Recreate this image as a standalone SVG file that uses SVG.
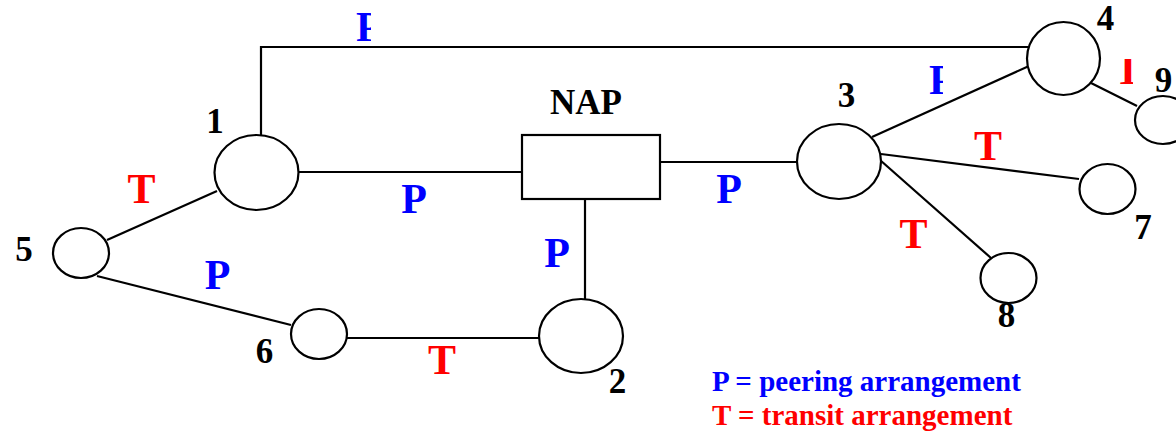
<svg xmlns="http://www.w3.org/2000/svg" width="1176" height="432" viewBox="0 0 1176 432">
  <style>
    .node { fill: #ffffff; stroke: #000000; stroke-width: 2.2; }
    .link { fill: none; stroke: #000000; stroke-width: 2.2; }
    .num { font-family: "Liberation Serif", "Times New Roman", serif; font-weight: bold; font-size: 35px; fill: #000000; text-anchor: middle; }
    .lab { font-family: "Liberation Serif", "Times New Roman", serif; font-weight: bold; font-size: 42px; text-anchor: middle; }
    .peer { fill: #0000ff; }
    .tran { fill: #ff0000; }
    .key { font-family: "Liberation Serif", "Times New Roman", serif; font-weight: bold; font-size: 29px; }
  </style>
  <defs>
    <clipPath id="cut-p-top"><rect x="340" y="0" width="31" height="60"/></clipPath>
    <clipPath id="cut-p-34"><rect x="915" y="55" width="28" height="50"/></clipPath>
    <clipPath id="cut-t-49"><rect x="1118" y="59" width="15" height="35"/></clipPath>
  </defs>
  <rect width="1176" height="432" fill="#ffffff"/>

  <!-- connectors -->
  <g id="connectors">
    <polyline class="link" points="261,136 261,47 1028,47"/>
    <line class="link" x1="107" y1="240" x2="217" y2="191"/>
    <line class="link" x1="97" y1="276" x2="291" y2="325"/>
    <line class="link" x1="347" y1="338" x2="539" y2="338"/>
    <line class="link" x1="299" y1="172" x2="522" y2="172"/>
    <line class="link" x1="585" y1="199" x2="585" y2="299"/>
    <line class="link" x1="660" y1="162" x2="797" y2="162"/>
    <line class="link" x1="872" y1="137" x2="1029" y2="66"/>
    <line class="link" x1="881" y1="154" x2="1079" y2="179"/>
    <line class="link" x1="880" y1="160" x2="991" y2="258"/>
    <line class="link" x1="1091" y1="83" x2="1137" y2="106"/>
  </g>

  <!-- link labels: P = peering, T = transit -->
  <g id="link-labels">
    <text class="lab tran" x="141.5" y="203">T</text>
    <text class="lab peer" x="217.5" y="289">P</text>
    <text class="lab peer" x="414" y="213">P</text>
    <text class="lab peer" x="557" y="267">P</text>
    <text class="lab peer" x="729" y="203">P</text>
    <text class="lab tran" x="442" y="374">T</text>
    <text class="lab tran" x="988" y="160">T</text>
    <text class="lab tran" x="913.5" y="248">T</text>
    <text class="lab peer" x="356" y="41" style="text-anchor:start" clip-path="url(#cut-p-top)">P</text>
    <text class="lab peer" x="929" y="94" style="text-anchor:start" clip-path="url(#cut-p-34)">P</text>
    <text class="lab tran" x="1114" y="84" style="text-anchor:start" clip-path="url(#cut-t-49)">T</text>
  </g>

  <!-- nodes -->
  <g id="node-1">
    <ellipse class="node" cx="256.5" cy="172.5" rx="42" ry="37.5"/>
    <text class="num" x="215" y="133">1</text>
  </g>
  <g id="node-2">
    <ellipse class="node" cx="581" cy="336" rx="42" ry="37"/>
    <text class="num" x="617.5" y="393">2</text>
  </g>
  <g id="node-3">
    <ellipse class="node" cx="839" cy="161.5" rx="42" ry="37.5"/>
    <text class="num" x="846.5" y="107">3</text>
  </g>
  <g id="node-4">
    <ellipse class="node" cx="1063.5" cy="58.5" rx="36.5" ry="36.5"/>
    <text class="num" x="1105.5" y="30">4</text>
  </g>
  <g id="node-5">
    <ellipse class="node" cx="81" cy="253" rx="28" ry="25"/>
    <text class="num" x="24" y="261">5</text>
  </g>
  <g id="node-6">
    <ellipse class="node" cx="319" cy="334" rx="28" ry="25"/>
    <text class="num" x="264.5" y="363">6</text>
  </g>
  <g id="node-7">
    <ellipse class="node" cx="1107.5" cy="189" rx="28" ry="25"/>
    <text class="num" x="1143" y="239">7</text>
  </g>
  <g id="node-8">
    <ellipse class="node" cx="1008.5" cy="278" rx="28" ry="25"/>
    <text class="num" x="1006.5" y="327">8</text>
  </g>
  <g id="node-9">
    <ellipse class="node" cx="1163" cy="120" rx="28" ry="24"/>
    <text class="num" x="1163.5" y="92">9</text>
  </g>
  <g id="node-nap">
    <rect class="node" x="522" y="135" width="138" height="64"/>
    <text class="num" x="586" y="114">NAP</text>
  </g>

  <!-- key -->
  <g id="key">
    <text class="key peer" x="712" y="391">P = peering arrangement</text>
    <text class="key tran" x="712" y="425">T = transit arrangement</text>
  </g>
</svg>
